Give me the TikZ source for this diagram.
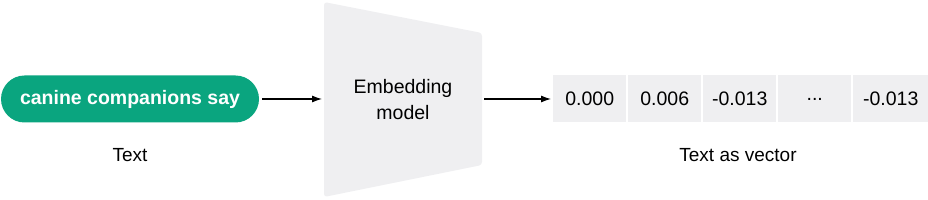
\documentclass[tikz,border=0pt]{standalone}
\usepackage{fontspec}
\setmainfont{Liberation Sans}
\usetikzlibrary{arrows.meta}
\definecolor{pillgreen}{HTML}{0AA57F}
\definecolor{boxgrey}{HTML}{EFEFF1}
\begin{document}
\begin{tikzpicture}[x=1pt,y=1pt,
  lbl/.style={font=\fontsize{19}{21}\selectfont, text=black},
  cell/.style={fill=boxgrey, minimum width=73pt, minimum height=47pt, inner sep=0pt, font=\fontsize{19.5}{21}\selectfont, anchor=west},
  conn/.style={-{Latex[length=10pt,width=7pt]}, line width=1.1pt, black}]
\useasboundingbox (0,0) rectangle (928,200);
% pill
\node[fill=pillgreen, rounded corners=23.5pt, minimum width=258pt, minimum height=47pt, inner sep=0pt,
  text=white, font=\bfseries\fontsize{19.5}{21}\selectfont] (pill) at (130,101) {canine companions say};
\node[lbl] (textlbl) at (130,45) {Text};
% trapezoid
\fill[boxgrey, rounded corners=3pt] (324,198) -- (482,167) -- (482,35) -- (324,3) -- cycle;
\coordinate (modelL) at (324,101);
\coordinate (modelR) at (482,101);
\node[lbl, align=center, font=\fontsize{19.5}{26}\selectfont] (model) at (403,100) {Embedding\\model};
% cells
\node[cell] (c1) at (553,101) {0.000};
\node[cell] (c2) at (628,101) {0.006};
\node[cell] (c3) at (703,101) {-0.013};
\node[cell] (c4) at (778,101) {...};
\node[cell, minimum width=75pt] (c5) at (853,101) {-0.013};
\node[lbl] (veclbl) at (738,45) {Text as vector};
% connectors
\draw[conn] (pill.east) ++(3,0) coordinate (p1) -- ([xshift=-2pt]modelL);
\draw[conn] ([xshift=2pt]modelR) -- ([xshift=-2pt]c1.west);
\end{tikzpicture}
\end{document}
